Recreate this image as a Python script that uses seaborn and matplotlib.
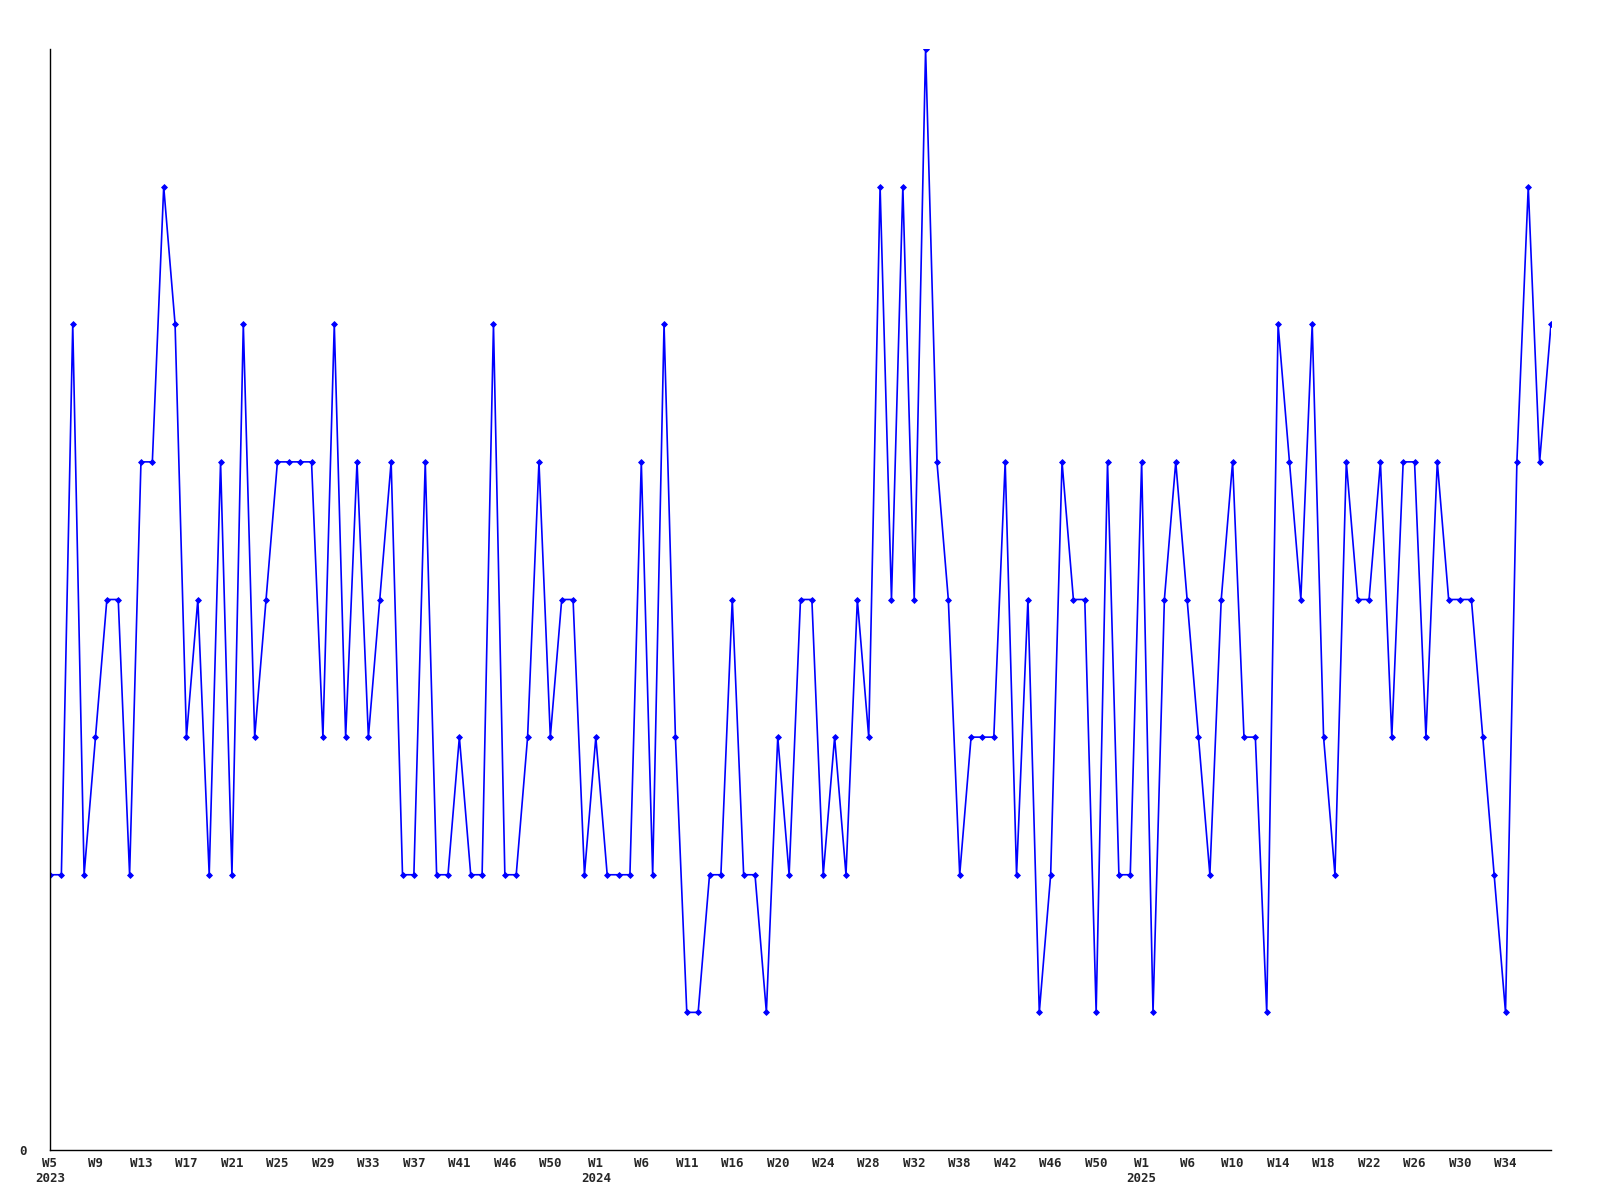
import seaborn as sns
import matplotlib.pyplot as plt
import pandas as pd

# weekly values, 2023-W05 .. 2025-W38 (one point per week slot)
values_2023 = [2, 2, 6, 2, 3, 4, 4, 2, 5, 5, 7, 6, 3, 4, 2, 5,
               2, 6, 3, 4, 5, 5, 5, 5, 3, 6, 3, 5, 3, 4, 5, 2,
               2, 5, 2, 2, 3, 2, 2, 6, 2, 2, 3, 5, 3, 4, 4, 2]
values_2024 = [3, 2, 2, 2, 5, 2, 6, 3, 1, 1, 2, 2, 4, 2, 2, 1,
               3, 2, 4, 4, 2, 3, 2, 4, 3, 7, 4, 7, 4, 8, 5, 4,
               2, 3, 3, 3, 5, 2, 4, 1, 2, 5, 4, 4, 1, 5, 2, 2]
values_2025 = [5, 1, 4, 5, 4, 3, 2, 4, 5, 3, 3, 1, 6, 5, 4, 6,
               3, 2, 5, 4, 4, 5, 3, 5, 5, 3, 5, 4, 4, 4, 3, 2,
               1, 5, 7, 5, 6]

# tick labels, one every 4 points
week_labels = ["W5\n2023", "W9", "W13", "W17", "W21", "W25", "W29", "W33",
               "W37", "W41", "W46", "W50",
               "W1\n2024", "W6", "W11", "W16", "W20", "W24", "W28", "W32",
               "W38", "W42", "W46", "W50",
               "W1\n2025", "W6", "W10", "W14", "W18", "W22", "W26", "W30", "W34"]

vals = values_2023 + values_2024 + values_2025
df = pd.DataFrame({"idx": range(len(vals)), "value": vals})

sns.set_style("white")
plt.rcParams['font.family'] = ['DejaVu Sans Mono']
plt.rcParams['font.weight'] = 'bold'

fig = plt.figure(figsize=(16, 12), dpi=100)
ax = fig.add_axes([50 / 1600, 1 - 1150 / 1200, 1501 / 1600, 1101 / 1200])

sns.lineplot(data=df, x="idx", y="value", ax=ax, color="#0000ff",
             linewidth=1.2, marker="D", markersize=3, markeredgewidth=0.6,
             markeredgecolor="#0000ff", markerfacecolor="#0000ff")

ax.set_xlim(0, len(vals) - 1)
ax.set_ylim(0, 8)
ax.set_xticks(range(0, 4 * len(week_labels), 4))
ax.set_xticklabels(week_labels, fontsize=9, fontweight='bold', linespacing=1.25)
ax.set_yticks([0])
ax.set_yticklabels(["0"], fontsize=9, fontweight='bold')
ax.tick_params(axis='x', length=0, pad=5)
ax.tick_params(axis='y', length=0, pad=17)
ax.set_xlabel("")
ax.set_ylabel("")

sns.despine(ax=ax)
for s in ("left", "bottom"):
    ax.spines[s].set_color("black")
    ax.spines[s].set_linewidth(1.0)

fig.savefig("out.png", dpi=100)
